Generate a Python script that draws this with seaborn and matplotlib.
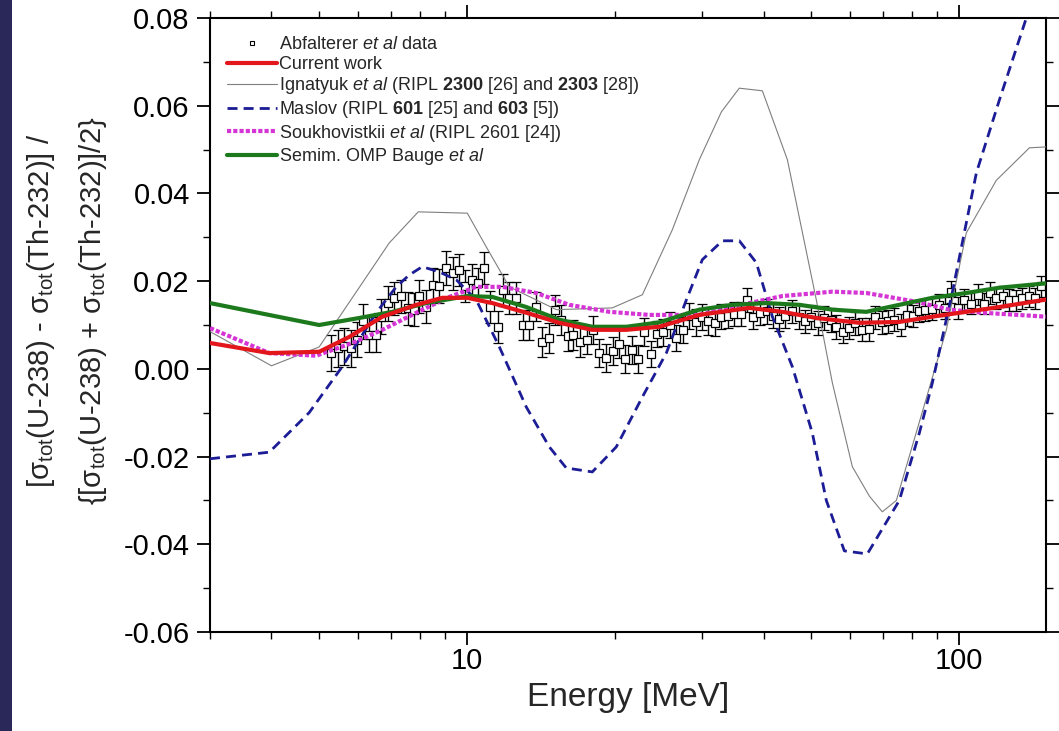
import matplotlib
matplotlib.use("Agg")
import matplotlib.pyplot as plt
import seaborn as sns
import pandas as pd
from matplotlib.ticker import FixedLocator, MultipleLocator, FuncFormatter, NullFormatter
from matplotlib.lines import Line2D
from matplotlib.patches import Rectangle

# ---- measured data: Abfalterer et al (energy in MeV, relative difference, uncertainty)
data_e = [5.28, 5.45, 5.62, 5.80, 5.98, 6.13, 6.32, 6.52, 6.68, 6.89,
          7.11, 7.33, 7.56, 7.80, 7.99, 8.24, 8.50, 8.77, 9.05, 9.34,
          9.60, 9.91, 10.22, 10.49, 10.83, 11.12, 11.52, 11.80, 12.17, 12.56,
          12.95, 13.37, 13.79, 14.18, 14.63, 15.10, 15.50, 15.99, 16.42, 16.95,
          17.48, 17.98, 18.55, 19.14, 19.74, 20.30, 20.95, 21.62, 22.27, 22.90,
          23.63, 24.26, 25.03, 25.82, 26.56, 27.39, 28.26, 29.16, 29.99, 30.85,
          31.82, 32.84, 33.82, 34.89, 36.00, 36.96, 38.14, 39.35, 40.58, 41.74,
          43.06, 44.29, 45.71, 47.14, 48.64, 49.96, 51.52, 53.16, 54.86, 56.16,
          57.92, 59.76, 61.46, 63.42, 65.42, 67.51, 69.65, 71.51, 73.78, 76.13,
          78.16, 80.38, 82.67, 85.31, 88.02, 90.78, 93.67, 96.21, 99.20, 102.4,
          105.6, 108.9, 112.0, 115.4, 118.7, 122.5, 126.4, 130.4, 134.1, 138.3,
          142.7, 146.8]
data_v = [0.0036, 0.0047, 0.0051, 0.0047, 0.0066, 0.0108, 0.0078, 0.0078, 0.0119, 0.0150,
          0.0161, 0.0165, 0.0138, 0.0135, 0.0165, 0.0142, 0.0192, 0.0189, 0.0230, 0.0218,
          0.0226, 0.0189, 0.0203, 0.0195, 0.0230, 0.0141, 0.0095, 0.0180, 0.0161, 0.0161,
          0.0100, 0.0100, 0.0142, 0.0062, 0.0070, 0.0135, 0.0112, 0.0074, 0.0078, 0.0062,
          0.0066, 0.0089, 0.0036, 0.0024, 0.0040, 0.0057, 0.0022, 0.0043, 0.0022, 0.0085,
          0.0034, 0.0080, 0.0083, 0.0100, 0.0071, 0.0089, 0.0121, 0.0106, 0.0119, 0.0108,
          0.0104, 0.0119, 0.0121, 0.0125, 0.0125, 0.0157, 0.0119, 0.0127, 0.0131, 0.0121,
          0.0113, 0.0121, 0.0131, 0.0119, 0.0108, 0.0119, 0.0104, 0.0116, 0.0112, 0.0096,
          0.0085, 0.0093, 0.0104, 0.0089, 0.0090, 0.0118, 0.0106, 0.0108, 0.0112, 0.0100,
          0.0123, 0.0121, 0.0131, 0.0135, 0.0136, 0.0146, 0.0138, 0.0176, 0.0138, 0.0156,
          0.0148, 0.0169, 0.0148, 0.0173, 0.0161, 0.0166, 0.0157, 0.0156, 0.0161, 0.0165,
          0.0161, 0.0188]
data_err = [0.0042, 0.0042, 0.0042, 0.0042, 0.0040, 0.0040, 0.0040, 0.0040, 0.0040, 0.0040,
            0.0038, 0.0038, 0.0038, 0.0038, 0.0038, 0.0038, 0.0038, 0.0038, 0.0038, 0.0038,
            0.0036, 0.0036, 0.0036, 0.0036, 0.0036, 0.0036, 0.0036, 0.0036, 0.0036, 0.0036,
            0.0034, 0.0034, 0.0034, 0.0034, 0.0034, 0.0034, 0.0034, 0.0034, 0.0034, 0.0034,
            0.0032, 0.0032, 0.0032, 0.0032, 0.0032, 0.0032, 0.0032, 0.0032, 0.0032, 0.0032,
            0.0030, 0.0030, 0.0030, 0.0030, 0.0030, 0.0030, 0.0030, 0.0030, 0.0030, 0.0030,
            0.0028, 0.0028, 0.0028, 0.0028, 0.0028, 0.0028, 0.0028, 0.0028, 0.0028, 0.0028,
            0.0027, 0.0027, 0.0027, 0.0027, 0.0027, 0.0027, 0.0027, 0.0027, 0.0027, 0.0027,
            0.0026, 0.0026, 0.0026, 0.0026, 0.0026, 0.0026, 0.0026, 0.0026, 0.0026, 0.0026,
            0.0025, 0.0025, 0.0025, 0.0025, 0.0025, 0.0025, 0.0025, 0.0025, 0.0025, 0.0025,
            0.0024, 0.0024, 0.0024, 0.0024, 0.0024, 0.0024, 0.0024, 0.0024, 0.0024, 0.0024,
            0.0024, 0.0024]

# ---- model calculations
current_e = [3.0, 3.96, 5.0, 5.76, 6.72, 7.88, 8.90, 10.0, 11.24, 13.18, 15.38, 17.95,
             21.05, 24.56, 29.62, 37.43, 43.68, 51.21, 62.62, 75.51, 88.13, 103.3, 120.6, 150.0]
current_v = [0.0059, 0.0036, 0.0039, 0.0073, 0.0119, 0.0146, 0.0162, 0.0162, 0.0150, 0.0128,
             0.0105, 0.0089, 0.0089, 0.0096, 0.0123, 0.0139, 0.0130, 0.0116, 0.0105, 0.0107,
             0.0119, 0.0130, 0.0141, 0.0158]

ignatyuk_e = [3.0, 4.0, 5.0, 6.94, 7.95, 10.0, 10.93, 12.17, 15.17, 19.71, 22.69, 26.10,
              29.62, 32.84, 35.71, 39.78, 44.72, 51.21, 55.20, 60.6, 65.62, 69.73, 74.47,
              94.1, 103.3, 118.9, 138.8, 150.0]
ignatyuk_v = [0.0085, 0.0007, 0.0050, 0.0287, 0.0358, 0.0355, 0.0278, 0.0187, 0.0135, 0.0139,
              0.0169, 0.0317, 0.0477, 0.0586, 0.0640, 0.0634, 0.0477, 0.0157, -0.0032, -0.0223,
              -0.0290, -0.0326, -0.0300, 0.0089, 0.0310, 0.0430, 0.0504, 0.0506]

maslov_e = [3.0, 3.96, 4.77, 5.57, 6.53, 7.17, 7.62, 8.10, 8.77, 9.50, 10.43, 11.62, 13.18,
            14.68, 15.89, 17.95, 20.08, 22.69, 25.38, 27.87, 30.04, 32.99, 35.71, 38.68,
            41.69, 45.77, 50.25, 53.66, 58.38, 65.01, 75.51, 82.94, 88.13, 96.78, 108.3,
            120.6, 136.8, 150.0]
maslov_v = [-0.0205, -0.0190, -0.0100, 0.0005, 0.0128, 0.0187, 0.0214, 0.0233, 0.0221, 0.0203,
            0.0157, 0.0050, -0.0087, -0.0178, -0.0226, -0.0235, -0.0178, -0.0064, 0.0036,
            0.0157, 0.0249, 0.0292, 0.0292, 0.0242, 0.0119, 0.0005, -0.0146, -0.0300, -0.0415,
            -0.0422, -0.0300, -0.0146, -0.0032, 0.0175, 0.0447, 0.0613, 0.0800, 0.0870]

soukh_e = [3.0, 3.96, 4.93, 5.84, 6.72, 7.88, 9.19, 10.43, 11.78, 13.81, 16.12, 19.44,
           23.44, 29.62, 37.43, 43.68, 55.20, 64.71, 81.78, 95.43, 111.4, 150.0]
soukh_v = [0.0093, 0.0036, 0.0030, 0.0059, 0.0089, 0.0128, 0.0164, 0.0187, 0.0187, 0.0173,
           0.0146, 0.0130, 0.0123, 0.0123, 0.0150, 0.0166, 0.0176, 0.0173, 0.0153, 0.0135,
           0.0128, 0.0119]

bauge_e = [3.0, 5.0, 6.03, 7.04, 8.25, 10.0, 11.24, 13.18, 15.38, 17.95, 21.05, 24.56,
           29.62, 34.56, 40.52, 47.30, 55.20, 64.71, 75.51, 88.13, 103.3, 120.6, 150.0]
bauge_v = [0.0150, 0.0100, 0.0116, 0.0130, 0.0150, 0.0166, 0.0164, 0.0141, 0.0112, 0.0096,
           0.0096, 0.0106, 0.0135, 0.0146, 0.0150, 0.0146, 0.0135, 0.0130, 0.0146, 0.0162,
           0.0173, 0.0185, 0.0195]

labels = [
    r"Abfalterer $\it{et\ al}$ data",
    "Current work",
    r"Ignatyuk $\it{et\ al}$ (RIPL $\bf{2300}$ [26] and $\bf{2303}$ [28])",
    r"Maslov (RIPL $\bf{601}$ [25] and $\bf{603}$ [5])",
    r"Soukhovistkii $\it{et\ al}$ (RIPL 2601 [24])",
    r"Semim. OMP Bauge $\it{et\ al}$",
]

sns.set_theme(style="ticks")
plt.rcParams.update({
    "font.family": ["Liberation Sans", "DejaVu Sans"],
    "mathtext.fontset": "custom",
    "mathtext.rm": "Liberation Sans",
    "mathtext.it": "Liberation Sans:italic",
    "mathtext.bf": "Liberation Sans:bold",
    "axes.unicode_minus": False,
    "axes.linewidth": 1.5,
    "axes.edgecolor": "black",
})

fig = plt.figure(figsize=(10.59, 7.31), dpi=100, facecolor="white")
fig.add_artist(Rectangle((0, 0), 12 / 1059, 1, transform=fig.transFigure,
                         facecolor="#2a2858", edgecolor="none", zorder=0))
ax = fig.add_axes([210 / 1059, 99 / 731, 836 / 1059, 614 / 731])

# experimental points with error bars
ax.errorbar(data_e, data_v, yerr=data_err, fmt="s", ms=5.2, mfc="white", mec="black",
            mew=0.9, ecolor="black", elinewidth=1.0, capsize=3.8, capthick=1.0, zorder=2)

styles = [
    (ignatyuk_e, ignatyuk_v, "#7f7f7f", 0.8, "-", labels[2]),
    (maslov_e, maslov_v, "#1c1c96", 2.0, (0, (3.6, 2.2)), labels[3]),
    (soukh_e, soukh_v, "#d535d5", 3.0, (0, (1.0, 0.5)), labels[4]),
    (bauge_e, bauge_v, "#1c7a1c", 3.0, "-", labels[5]),
    (current_e, current_v, "#e3161c", 3.0, "-", labels[1]),
]
handles = {}
for xs, ys, col, lw, ls, lab in styles:
    df = pd.DataFrame({"E": xs, "v": ys})
    sns.lineplot(data=df, x="E", y="v", ax=ax, color=col, linewidth=lw, linestyle=ls,
                 zorder=3, legend=False)
    handles[lab] = Line2D([], [], color=col, linewidth=lw, linestyle=ls)

data_handle = Line2D([], [], linestyle="none", marker="s", ms=3.5, mfc="white",
                     mec="black", mew=0.8)
leg_handles = [data_handle] + [handles[l] for l in labels[1:]]
ax.legend(leg_handles, labels, loc="upper left", bbox_to_anchor=(0.02, 0.97),
          frameon=False, fontsize=13, handlelength=2.8, handletextpad=0.1,
          labelspacing=0.14, borderpad=0, borderaxespad=0)

ax.set_xscale("log")
ax.set_xlim(3, 150)
ax.set_ylim(-0.06, 0.08)
ax.xaxis.set_major_locator(FixedLocator([10, 100]))
ax.xaxis.set_minor_locator(FixedLocator([3, 4, 5, 6, 7, 8, 9, 20, 30, 40, 50, 60, 70, 80, 90]))
ax.xaxis.set_major_formatter(FuncFormatter(lambda v, _: f"{v:g}"))
ax.xaxis.set_minor_formatter(NullFormatter())
ax.yaxis.set_major_locator(MultipleLocator(0.02))
ax.yaxis.set_minor_locator(MultipleLocator(0.01))
ax.yaxis.set_major_formatter(FuncFormatter(lambda v, _: f"{v:.2f}"))

ax.tick_params(which="both", direction="out", top=True, right=True,
               labeltop=False, labelright=False, colors="black")
ax.tick_params(which="major", length=9.5, width=1.3, labelsize=21, pad=5)
ax.tick_params(axis="x", which="major", pad=1)
ax.tick_params(which="minor", length=5, width=1.0)

ax.set_xlabel("Energy [MeV]", fontsize=24, labelpad=5)
ax.set_ylabel("")

fig.text(41 / 1059, 1 - 311 / 731,
         r"[σ$_{\rm tot}$(U-238) - σ$_{\rm tot}$(Th-232)] /",
         rotation=90, ha="center", va="center", fontsize=21)
fig.text(93 / 1059, 1 - 311 / 731,
         r"{[σ$_{\rm tot}$(U-238) + σ$_{\rm tot}$(Th-232)]/2}",
         rotation=90, ha="center", va="center", fontsize=21)

fig.savefig("out.png", dpi=100, facecolor="white")
